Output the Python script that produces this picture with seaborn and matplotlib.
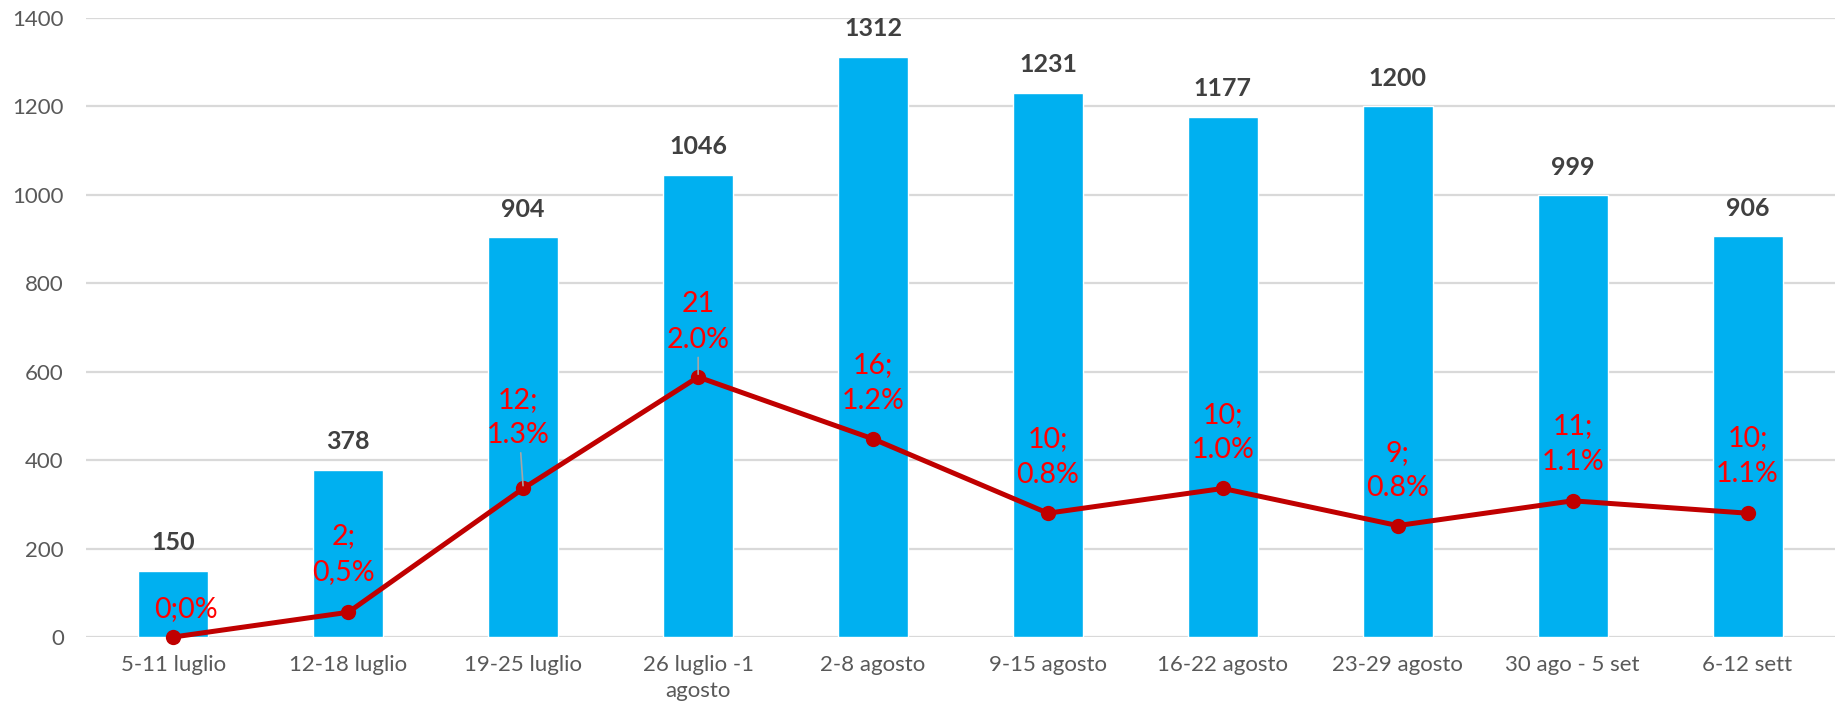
import numpy as np
import pandas as pd
import matplotlib
matplotlib.use("Agg")
import matplotlib.pyplot as plt
import seaborn as sns

# ---- data ----
weeks = ["5-11 luglio", "12-18 luglio", "19-25 luglio", "26 luglio -1\nagosto",
         "2-8 agosto", "9-15 agosto", "16-22 agosto", "23-29 agosto",
         "30 ago - 5 set", "6-12 sett"]
cases = [150, 378, 904, 1046, 1312, 1231, 1177, 1200, 999, 906]
deaths = [0, 2, 12, 21, 16, 10, 12, 9, 11, 10]
death_labels = ["0;0%", "2;\n0,5%", "12;\n1.3%", "21\n2.0%", "16;\n1.2%",
                "10;\n0.8%", "10;\n1.0%", "9;\n0.8%", "11;\n1.1%", "10;\n1.1%"]
y_ticks = [0, 200, 400, 600, 800, 1000, 1200, 1400]

# ---- style ----
sns.set_theme(style="white")
plt.rcParams["font.family"] = ["Lato", "DejaVu Sans"]

BAR = "#00B0F0"
LINE = "#C00000"
LABEL_RED = "#FF0000"
TICK = "#595959"
GRID = "#D9D9D9"

W, H = 1843, 711
fig = plt.figure(figsize=(W / 100, H / 100), dpi=100)
ax = fig.add_axes([86 / W, 74 / H, 1749 / W, 619 / H])

df = pd.DataFrame({"week": weeks, "cases": cases, "deaths": deaths})
sns.barplot(data=df, x="week", y="cases", color=BAR, saturation=1, width=0.4,
            ax=ax, zorder=2)
ax.set_ylim(0, 1400)
ax.set_yticks(y_ticks)
ax.set_xlim(-0.5, len(weeks) - 0.5)
ax.grid(axis="y", color=GRID, lw=1.6, zorder=0)
ax.set_axisbelow(True)
for s in ax.spines.values():
    s.set_visible(False)
ax.set_xlabel("")
ax.set_ylabel("")
ax.tick_params(axis="y", length=0, pad=16, labelsize=16, labelcolor=TICK)
ax.tick_params(axis="x", length=0, pad=13, labelsize=16, labelcolor=TICK)
for lab in ax.get_xticklabels():
    lab.set_linespacing(1.35)

# bar value labels
for p, v in zip(ax.patches, cases):
    ax.annotate(str(v), (p.get_x() + p.get_width() / 2, v), xytext=(0, 28),
                textcoords="offset pixels", ha="center", va="center",
                fontsize=18, fontweight="bold", color="#404040", zorder=5)

# secondary axis line
ax2 = ax.twinx()
sns.lineplot(x=np.arange(len(weeks)), y=deaths, ax=ax2, color=LINE, lw=3.6,
             marker="o", markersize=11, markeredgewidth=0, clip_on=False, zorder=3)
ax2.set_ylim(0, 50)
ax2.set_xlim(-0.5, len(weeks) - 0.5)
ax2.axis("off")

offsets = [(12, 28), (-5, 58), (-5, 71), (0, 55), (0, 56),
           (0, 56), (0, 56), (0, 55), (0, 57), (0, 57)]
leaders = [False, False, True, True, False, False, False, False, False, False]
for i, (d, lab) in enumerate(zip(deaths, death_labels)):
    kw = {}
    if leaders[i]:
        kw["arrowprops"] = dict(arrowstyle="-", color="#A6A6A6", lw=1.2,
                                shrinkA=1, shrinkB=2)
    ax2.annotate(lab, (i, d), xytext=offsets[i], textcoords="offset pixels",
                 ha="center", va="center", multialignment="center",
                 fontsize=20.5, color=LABEL_RED, linespacing=1.45, zorder=6, **kw)

fig.savefig("out.png", dpi=100)
